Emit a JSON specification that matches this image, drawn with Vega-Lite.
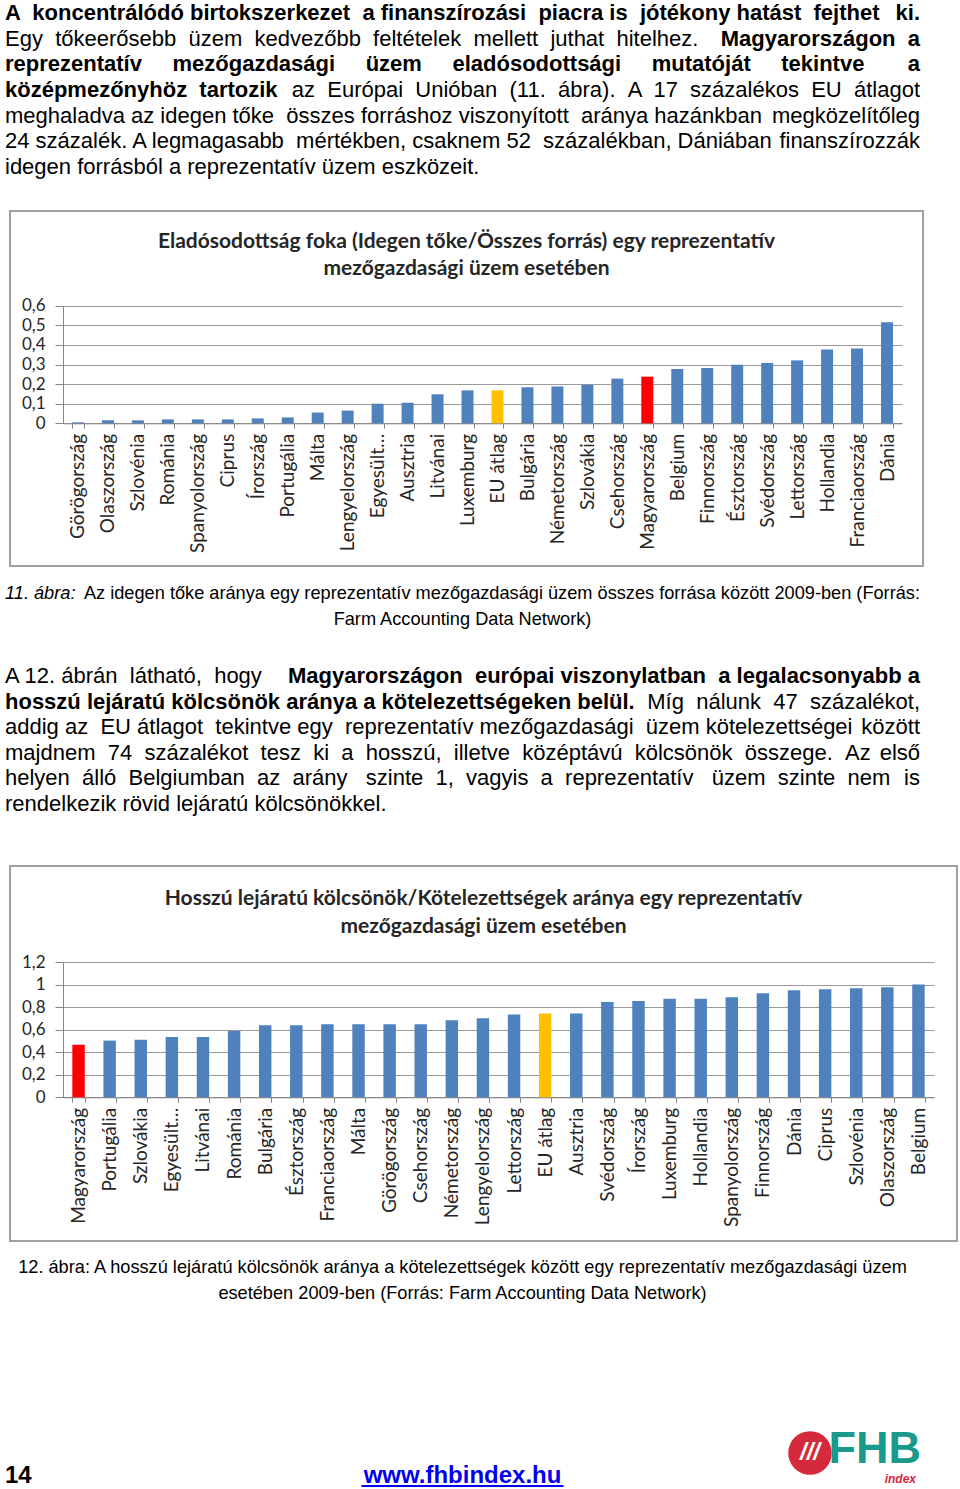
{
  "$schema": "https://vega.github.io/schema/vega-lite/v6.json",
  "padding": {"left": 0, "top": 0, "right": 0, "bottom": 0},
  "background": "white",
  "spacing": 0,
  "bounds": "flush",
  "center": false,
  "config": {"view": {"stroke": null}, "font": "Liberation Sans"},
  "datasets": {
    "debt": [
      {"country": "Görögország", "value": 0.005, "group": "country"},
      {"country": "Olaszország", "value": 0.015, "group": "country"},
      {"country": "Szlovénia", "value": 0.015, "group": "country"},
      {"country": "Románia", "value": 0.02, "group": "country"},
      {"country": "Spanyolország", "value": 0.02, "group": "country"},
      {"country": "Ciprus", "value": 0.02, "group": "country"},
      {"country": "Írország", "value": 0.025, "group": "country"},
      {"country": "Portugália", "value": 0.03, "group": "country"},
      {"country": "Málta", "value": 0.055, "group": "country"},
      {"country": "Lengyelország", "value": 0.065, "group": "country"},
      {"country": "Egyesült…", "value": 0.1, "group": "country"},
      {"country": "Ausztria", "value": 0.105, "group": "country"},
      {"country": "Litvánai", "value": 0.148, "group": "country"},
      {"country": "Luxemburg", "value": 0.168, "group": "country"},
      {"country": "EU átlag", "value": 0.168, "group": "eu"},
      {"country": "Bulgária", "value": 0.184, "group": "country"},
      {"country": "Németország", "value": 0.188, "group": "country"},
      {"country": "Szlovákia", "value": 0.196, "group": "country"},
      {"country": "Csehország", "value": 0.228, "group": "country"},
      {"country": "Magyarország", "value": 0.238, "group": "hu"},
      {"country": "Belgium", "value": 0.277, "group": "country"},
      {"country": "Finnország", "value": 0.282, "group": "country"},
      {"country": "Észtország", "value": 0.299, "group": "country"},
      {"country": "Svédország", "value": 0.308, "group": "country"},
      {"country": "Lettország", "value": 0.321, "group": "country"},
      {"country": "Hollandia", "value": 0.376, "group": "country"},
      {"country": "Franciaország", "value": 0.381, "group": "country"},
      {"country": "Dánia", "value": 0.515, "group": "country"}
    ],
    "loans": [
      {"country": "Magyarország", "value": 0.467, "group": "hu"},
      {"country": "Portugália", "value": 0.503, "group": "country"},
      {"country": "Szlovákia", "value": 0.511, "group": "country"},
      {"country": "Egyesült…", "value": 0.535, "group": "country"},
      {"country": "Litvánai", "value": 0.535, "group": "country"},
      {"country": "Románia", "value": 0.588, "group": "country"},
      {"country": "Bulgária", "value": 0.638, "group": "country"},
      {"country": "Észtország", "value": 0.638, "group": "country"},
      {"country": "Franciaország", "value": 0.647, "group": "country"},
      {"country": "Málta", "value": 0.647, "group": "country"},
      {"country": "Görögország", "value": 0.647, "group": "country"},
      {"country": "Csehország", "value": 0.647, "group": "country"},
      {"country": "Németország", "value": 0.683, "group": "country"},
      {"country": "Lengyelország", "value": 0.701, "group": "country"},
      {"country": "Lettország", "value": 0.734, "group": "country"},
      {"country": "EU átlag", "value": 0.743, "group": "eu"},
      {"country": "Ausztria", "value": 0.743, "group": "country"},
      {"country": "Svédország", "value": 0.846, "group": "country"},
      {"country": "Írország", "value": 0.855, "group": "country"},
      {"country": "Luxemburg", "value": 0.873, "group": "country"},
      {"country": "Hollandia", "value": 0.873, "group": "country"},
      {"country": "Spanyolország", "value": 0.888, "group": "country"},
      {"country": "Finnország", "value": 0.923, "group": "country"},
      {"country": "Dánia", "value": 0.95, "group": "country"},
      {"country": "Ciprus", "value": 0.959, "group": "country"},
      {"country": "Szlovénia", "value": 0.967, "group": "country"},
      {"country": "Olaszország", "value": 0.976, "group": "country"},
      {"country": "Belgium", "value": 1.0, "group": "country"}
    ],
    "text": [
      {"block": "p1", "line": 1, "pos": "left", "emph": "bold", "text": "A \u00a0koncentrálódó birtokszerkezet \u00a0a finanszírozási \u00a0piacra is \u00a0jótékony hatást \u00a0fejthet"},
      {"block": "p1", "line": 1, "pos": "right", "emph": "bold", "text": "ki."},
      {"block": "p1", "line": 2, "pos": "left", "emph": "normal", "text": "Egy \u00a0tőkeerősebb \u00a0üzem \u00a0kedvezőbb \u00a0feltételek \u00a0mellett \u00a0juthat \u00a0hitelhez."},
      {"block": "p1", "line": 2, "pos": "right", "emph": "bold", "text": "Magyarországon \u00a0a"},
      {"block": "p1", "line": 3, "pos": "left", "emph": "bold", "text": "reprezentatív\u00a0\u00a0\u00a0\u00a0 mezőgazdasági\u00a0\u00a0\u00a0\u00a0 üzem\u00a0\u00a0\u00a0\u00a0 eladósodottsági\u00a0\u00a0\u00a0\u00a0 mutatóját\u00a0\u00a0\u00a0\u00a0 tekintve"},
      {"block": "p1", "line": 3, "pos": "right", "emph": "bold", "text": "a"},
      {"block": "p1", "line": 4, "pos": "left", "emph": "bold", "text": "középmezőnyhöz \u00a0tartozik"},
      {"block": "p1", "line": 4, "pos": "right", "emph": "normal", "text": "az \u00a0Európai \u00a0Unióban \u00a0(11. \u00a0ábra). \u00a0A \u00a017 \u00a0százalékos \u00a0EU \u00a0átlagot"},
      {"block": "p1", "line": 5, "pos": "left", "emph": "normal", "text": "meghaladva az idegen tőke \u00a0összes forráshoz viszonyított \u00a0aránya hazánkban"},
      {"block": "p1", "line": 5, "pos": "right", "emph": "normal", "text": "megközelítőleg"},
      {"block": "p1", "line": 6, "pos": "left", "emph": "normal", "text": "24 százalék. A legmagasabb \u00a0mértékben, csaknem 52 \u00a0százalékban, Dániában"},
      {"block": "p1", "line": 6, "pos": "right", "emph": "normal", "text": "finanszírozzák"},
      {"block": "p1", "line": 7, "pos": "left", "emph": "normal", "text": "idegen forrásból a reprezentatív üzem eszközeit."},
      {"block": "c1", "line": 1, "pos": "left", "emph": "italic", "text": "11. ábra:"},
      {"block": "c1", "line": 1, "pos": "right", "emph": "normal", "text": "Az idegen tőke aránya egy reprezentatív mezőgazdasági üzem összes forrása között 2009-ben (Forrás:"},
      {"block": "c1", "line": 2, "pos": "center", "emph": "normal", "text": "Farm Accounting Data Network)"},
      {"block": "p2", "line": 1, "pos": "left", "emph": "normal", "text": "A 12. ábrán \u00a0látható, \u00a0hogy"},
      {"block": "p2", "line": 1, "pos": "right", "emph": "bold", "text": "Magyarországon \u00a0európai viszonylatban \u00a0a legalacsonyabb a"},
      {"block": "p2", "line": 2, "pos": "left", "emph": "bold", "text": "hosszú lejáratú kölcsönök aránya a kötelezettségeken belül."},
      {"block": "p2", "line": 2, "pos": "right", "emph": "normal", "text": "Míg \u00a0nálunk \u00a047 \u00a0százalékot,"},
      {"block": "p2", "line": 3, "pos": "left", "emph": "normal", "text": "addig az \u00a0EU átlagot \u00a0tekintve egy \u00a0reprezentatív mezőgazdasági \u00a0üzem kötelezettségei"},
      {"block": "p2", "line": 3, "pos": "right", "emph": "normal", "text": "között"},
      {"block": "p2", "line": 4, "pos": "left", "emph": "normal", "text": "majdnem \u00a074 \u00a0százalékot \u00a0tesz \u00a0ki \u00a0a \u00a0hosszú, \u00a0illetve \u00a0középtávú \u00a0kölcsönök \u00a0összege. \u00a0Az"},
      {"block": "p2", "line": 4, "pos": "right", "emph": "normal", "text": "első"},
      {"block": "p2", "line": 5, "pos": "left", "emph": "normal", "text": "helyen \u00a0álló \u00a0Belgiumban \u00a0az \u00a0arány \u00a0\u00a0szinte \u00a01, \u00a0vagyis \u00a0a \u00a0reprezentatív \u00a0\u00a0üzem \u00a0szinte \u00a0nem"},
      {"block": "p2", "line": 5, "pos": "right", "emph": "normal", "text": "is"},
      {"block": "p2", "line": 6, "pos": "left", "emph": "normal", "text": "rendelkezik rövid lejáratú kölcsönökkel."},
      {"block": "c2", "line": 1, "pos": "center", "emph": "normal", "text": "12. ábra: A hosszú lejáratú kölcsönök aránya a kötelezettségek között egy reprezentatív mezőgazdasági üzem"},
      {"block": "c2", "line": 2, "pos": "center", "emph": "normal", "text": "esetében 2009-ben (Forrás: Farm Accounting Data Network)"},
      {"block": "foot", "line": 1, "pos": "left", "emph": "bold", "text": "14"},
      {"block": "foot", "line": 1, "pos": "center", "emph": "link", "text": "www.fhbindex.hu"},
      {"block": "foot", "line": 1, "pos": "right", "emph": "logo", "text": "FHB"},
      {"block": "foot", "line": 1, "pos": "right", "emph": "logosub", "text": "index"},
      {"block": "foot", "line": 1, "pos": "right", "emph": "logomark", "text": "///"}
    ]
  },
  "vconcat": [
    {
      "width": 920, "height": 211,
      "data": {"name": "text"},
      "transform": [{"filter": "datum.block == 'p1'"}],
      "encoding": {
        "x": {"field": "pos", "type": "nominal", "scale": {"type": "point", "domain": ["left", "center", "right"], "range": [-5, 910], "padding": 0}, "axis": null},
        "y": {"field": "line", "type": "quantitative", "scale": {"domain": [1, 7], "range": [20, 174], "nice": false, "zero": false}, "axis": null},
        "text": {"field": "text", "type": "nominal"}
      },
      "layer": [
        {"transform": [{"filter": "datum.pos == 'left' && datum.emph == 'normal'"}], "mark": {"type": "text", "align": "left", "baseline": "alphabetic", "font": "Liberation Sans", "fontSize": 22, "color": "#000000"}},
        {"transform": [{"filter": "datum.pos == 'left' && datum.emph == 'bold'"}], "mark": {"type": "text", "align": "left", "baseline": "alphabetic", "font": "Liberation Sans", "fontSize": 22, "fontWeight": "bold", "color": "#000000"}},
        {"transform": [{"filter": "datum.pos == 'right' && datum.emph == 'normal'"}], "mark": {"type": "text", "align": "right", "baseline": "alphabetic", "font": "Liberation Sans", "fontSize": 22, "color": "#000000"}},
        {"transform": [{"filter": "datum.pos == 'right' && datum.emph == 'bold'"}], "mark": {"type": "text", "align": "right", "baseline": "alphabetic", "font": "Liberation Sans", "fontSize": 22, "fontWeight": "bold", "color": "#000000"}}
      ]
    },
    {
      "width": 913, "height": 355,
      "view": {"stroke": "#a0a0a0", "strokeWidth": 2},
      "title": {"text": ["Eladósodottság foka (Idegen tőke/Összes forrás) egy reprezentatív", "mezőgazdasági üzem esetében"], "anchor": "middle", "frame": "group", "orient": "top", "offset": -68, "font": "Lato", "fontSize": 21, "fontWeight": "bold", "color": "#262626", "lineHeight": 27},
      "data": {"name": "debt"},
      "mark": {"type": "bar"},
      "encoding": {
        "x": {"field": "country", "type": "nominal", "sort": null,
          "scale": {"range": [53, 892], "paddingInner": 0.6, "paddingOuter": 0.3},
          "axis": {"orient": "bottom", "offset": -142.7, "title": null, "tickBand": "extent", "tickSize": 5, "tickColor": "#868686", "domainColor": "#868686", "labelAngle": -90, "labelPadding": 5, "labelFont": "Lato", "labelFontSize": 19, "labelColor": "#262626", "labelOverlap": false, "grid": false}},
        "y": {"field": "value", "type": "quantitative",
          "scale": {"domain": [0, 0.6], "range": [212.3, 94.7], "nice": false},
          "axis": {"orient": "left", "offset": -53, "title": null, "values": [0, 0.1, 0.2, 0.3, 0.4, 0.5, 0.6], "labelExpr": "replace(toString(datum.value), '.', ',')", "tickSize": 8, "tickColor": "#868686", "domainColor": "#868686", "grid": true, "gridColor": "#9a9a9a", "labelPadding": 10, "labelFont": "Lato", "labelFontSize": 17, "labelColor": "#262626"}},
        "color": {"field": "group", "type": "nominal", "scale": {"domain": ["country", "eu", "hu"], "range": ["#4F81BD", "#FFC000", "#FF0000"]}, "legend": null}
      }
    },
    {
      "width": 920, "height": 70,
      "data": {"name": "text"},
      "transform": [{"filter": "datum.block == 'c1'"}],
      "encoding": {
        "x": {"field": "pos", "type": "nominal", "scale": {"type": "point", "domain": ["left", "center", "right"], "range": [-5, 910], "padding": 0}, "axis": null},
        "y": {"field": "line", "type": "quantitative", "scale": {"domain": [1, 2], "range": [33, 59], "nice": false, "zero": false}, "axis": null},
        "text": {"field": "text", "type": "nominal"}
      },
      "layer": [
        {"transform": [{"filter": "datum.pos == 'left' && datum.emph == 'italic'"}], "mark": {"type": "text", "align": "left", "baseline": "alphabetic", "font": "Liberation Sans", "fontSize": 18.2, "fontStyle": "italic", "color": "#000000"}},
        {"transform": [{"filter": "datum.pos == 'right' && datum.emph == 'normal'"}], "mark": {"type": "text", "align": "right", "baseline": "alphabetic", "font": "Liberation Sans", "fontSize": 18.2, "color": "#000000"}},
        {"transform": [{"filter": "datum.pos == 'center' && datum.emph == 'normal'"}], "mark": {"type": "text", "align": "center", "baseline": "alphabetic", "font": "Liberation Sans", "fontSize": 18.2, "color": "#000000"}}
      ]
    },
    {
      "width": 920, "height": 230,
      "data": {"name": "text"},
      "transform": [{"filter": "datum.block == 'p2'"}],
      "encoding": {
        "x": {"field": "pos", "type": "nominal", "scale": {"type": "point", "domain": ["left", "center", "right"], "range": [-5, 910], "padding": 0}, "axis": null},
        "y": {"field": "line", "type": "quantitative", "scale": {"domain": [1, 6], "range": [47, 175], "nice": false, "zero": false}, "axis": null},
        "text": {"field": "text", "type": "nominal"}
      },
      "layer": [
        {"transform": [{"filter": "datum.pos == 'left' && datum.emph == 'normal'"}], "mark": {"type": "text", "align": "left", "baseline": "alphabetic", "font": "Liberation Sans", "fontSize": 22, "color": "#000000"}},
        {"transform": [{"filter": "datum.pos == 'left' && datum.emph == 'bold'"}], "mark": {"type": "text", "align": "left", "baseline": "alphabetic", "font": "Liberation Sans", "fontSize": 22, "fontWeight": "bold", "color": "#000000"}},
        {"transform": [{"filter": "datum.pos == 'right' && datum.emph == 'normal'"}], "mark": {"type": "text", "align": "right", "baseline": "alphabetic", "font": "Liberation Sans", "fontSize": 22, "color": "#000000"}},
        {"transform": [{"filter": "datum.pos == 'right' && datum.emph == 'bold'"}], "mark": {"type": "text", "align": "right", "baseline": "alphabetic", "font": "Liberation Sans", "fontSize": 22, "fontWeight": "bold", "color": "#000000"}}
      ]
    },
    {
      "width": 947, "height": 375,
      "view": {"stroke": "#a0a0a0", "strokeWidth": 2},
      "title": {"text": ["Hosszú lejáratú kölcsönök/Kötelezettségek aránya egy reprezentatív", "mezőgazdasági üzem esetében"], "anchor": "middle", "frame": "group", "orient": "top", "offset": -71, "font": "Lato", "fontSize": 21, "fontWeight": "bold", "color": "#262626", "lineHeight": 28},
      "data": {"name": "loans"},
      "mark": {"type": "bar"},
      "encoding": {
        "x": {"field": "country", "type": "nominal", "sort": null,
          "scale": {"range": [53, 924], "paddingInner": 0.6, "paddingOuter": 0.3},
          "axis": {"orient": "bottom", "offset": -143.7, "title": null, "tickBand": "extent", "tickSize": 5, "tickColor": "#868686", "domainColor": "#868686", "labelAngle": -90, "labelPadding": 5, "labelFont": "Lato", "labelFontSize": 19, "labelColor": "#262626", "labelOverlap": false, "grid": false}},
        "y": {"field": "value", "type": "quantitative",
          "scale": {"domain": [0, 1.2], "range": [231.3, 96], "nice": false},
          "axis": {"orient": "left", "offset": -53, "title": null, "values": [0, 0.2, 0.4, 0.6, 0.8, 1, 1.2], "labelExpr": "replace(toString(datum.value), '.', ',')", "tickSize": 8, "tickColor": "#868686", "domainColor": "#868686", "grid": true, "gridColor": "#9a9a9a", "labelPadding": 10, "labelFont": "Lato", "labelFontSize": 17, "labelColor": "#262626"}},
        "color": {"field": "group", "type": "nominal", "scale": {"domain": ["country", "eu", "hu"], "range": ["#4F81BD", "#FFC000", "#FF0000"]}, "legend": null}
      }
    },
    {
      "width": 920, "height": 76,
      "data": {"name": "text"},
      "transform": [{"filter": "datum.block == 'c2'"}],
      "encoding": {
        "x": {"field": "pos", "type": "nominal", "scale": {"type": "point", "domain": ["left", "center", "right"], "range": [-5, 910], "padding": 0}, "axis": null},
        "y": {"field": "line", "type": "quantitative", "scale": {"domain": [1, 2], "range": [32, 58], "nice": false, "zero": false}, "axis": null},
        "text": {"field": "text", "type": "nominal"}
      },
      "layer": [
        {"mark": {"type": "text", "align": "center", "baseline": "alphabetic", "font": "Liberation Sans", "fontSize": 18.2, "color": "#000000"}}
      ]
    },
    {
      "width": 920, "height": 172,
      "data": {"name": "text"},
      "transform": [{"filter": "datum.block == 'foot'"}],
      "encoding": {
        "x": {"field": "pos", "type": "nominal", "scale": {"type": "point", "domain": ["left", "center", "right"], "range": [-5, 910], "padding": 0}, "axis": null},
        "y": {"field": "line", "type": "quantitative", "scale": {"domain": [0, 1], "range": [0, 166], "nice": false, "zero": false}, "axis": null}
      },
      "layer": [
        {"transform": [{"filter": "datum.emph == 'bold'"}], "mark": {"type": "text", "align": "left", "baseline": "alphabetic", "font": "Liberation Sans", "fontSize": 24, "fontWeight": "bold", "color": "#000000"}, "encoding": {"text": {"field": "text", "type": "nominal"}}},
        {"transform": [{"filter": "datum.emph == 'link'"}], "mark": {"type": "text", "align": "center", "baseline": "alphabetic", "font": "Liberation Sans", "fontSize": 24, "fontWeight": "bold", "color": "#0000EE"}, "encoding": {"text": {"field": "text", "type": "nominal"}}},
        {"transform": [{"filter": "datum.emph == 'link'"}], "mark": {"type": "rule", "color": "#0000EE", "strokeWidth": 2, "xOffset": -101, "x2Offset": 101, "yOffset": 3, "y2Offset": 3}, "encoding": {"x2": {"field": "pos"}}},
        {"transform": [{"filter": "datum.emph == 'logomark'"}], "mark": {"type": "point", "shape": "circle", "filled": true, "color": "#D42A3C", "opacity": 1, "size": 1900, "xOffset": -110, "yOffset": -30}},
        {"transform": [{"filter": "datum.emph == 'logomark'"}], "mark": {"type": "text", "align": "center", "baseline": "middle", "font": "Liberation Sans", "fontSize": 24, "fontWeight": "bold", "fontStyle": "italic", "color": "#FFFFFF", "dx": -110, "dy": -30}, "encoding": {"text": {"field": "text", "type": "nominal"}}},
        {"transform": [{"filter": "datum.emph == 'logo'"}], "mark": {"type": "text", "align": "right", "baseline": "alphabetic", "font": "Liberation Sans", "fontSize": 45, "fontWeight": "bold", "color": "#1A9A8C", "dx": 1, "dy": -20}, "encoding": {"text": {"field": "text", "type": "nominal"}}},
        {"transform": [{"filter": "datum.emph == 'logosub'"}], "mark": {"type": "text", "align": "right", "baseline": "alphabetic", "font": "Liberation Sans", "fontSize": 12, "fontWeight": "bold", "fontStyle": "italic", "color": "#D42A3C", "dx": -4, "dy": 0}, "encoding": {"text": {"field": "text", "type": "nominal"}}}
      ]
    }
  ]
}
